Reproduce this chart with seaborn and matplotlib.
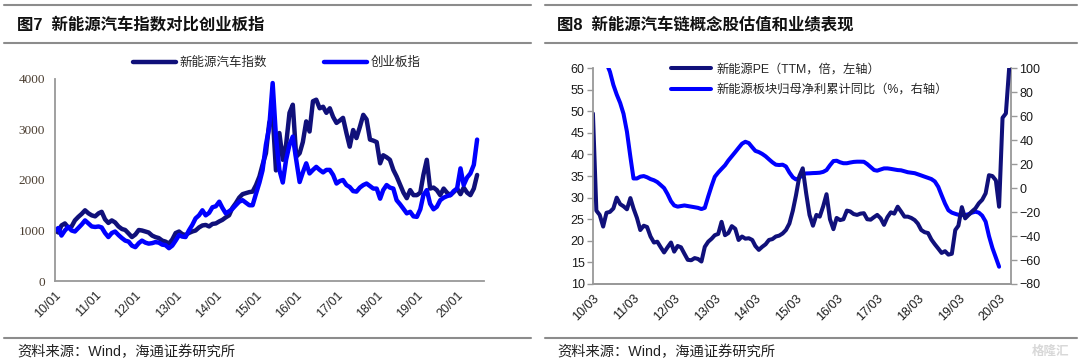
import matplotlib
matplotlib.use("Agg")
import pandas as pd
import matplotlib.pyplot as plt
import matplotlib.dates as mdates
import seaborn as sns

# ---- left chart: monthly index levels, 2010/01 - 2020/07 ----
nev_index = [
    1000, 960, 1100, 1140, 1060, 1080, 1200, 1270, 1330, 1400, 1340, 1300,   # 2010
    1280, 1340, 1370, 1220, 1150, 1200, 1160, 1080, 1030, 1010, 940, 870,    # 2011
    920, 1010, 1000, 980, 960, 900, 870, 850, 800, 780, 740, 820,            # 2012
    950, 980, 930, 910, 950, 980, 1000, 1060, 1100, 1110, 1080, 1130,        # 2013
    1140, 1180, 1210, 1260, 1300, 1450, 1540, 1650, 1720, 1740, 1760, 1770,  # 2014
    1900, 2070, 2300, 2530, 3130, 3300, 2190, 2930, 2400, 2700, 3330, 3490,  # 2015
    2460, 2530, 2750, 3160, 2960, 3560, 3590, 3420, 3450, 3330, 3420, 3250,  # 2016
    3130, 3180, 3230, 2930, 2660, 2990, 2830, 3050, 3290, 3200, 2800, 2780,  # 2017
    2750, 2330, 2490, 2450, 2400, 2200, 2070, 1910, 1750, 1640, 1800, 1700,  # 2018
    1700, 1750, 2100, 2400, 1830, 1850, 1800, 1700, 1830, 1750, 1700, 1760,  # 2019
    1830, 1720, 1850, 1750, 1700, 1830, 2100,                                # 2020
]
chinext = [
    1000, 1050, 900, 1000, 1070, 1000, 980, 1050, 1120, 1200, 1140, 1080,    # 2010
    1070, 1080, 1060, 950, 870, 950, 980, 910, 850, 800, 780, 700,           # 2011
    670, 750, 800, 760, 740, 750, 770, 760, 720, 710, 650, 700,              # 2012
    800, 910, 880, 870, 1000, 1110, 1240, 1300, 1400, 1300, 1350, 1460,      # 2013
    1480, 1570, 1450, 1340, 1380, 1430, 1500, 1570, 1600, 1550, 1500, 1500,  # 2014
    1730, 1950, 2190, 2700, 3050, 3920, 2860, 2200, 1950, 2400, 2700, 2860,  # 2015
    2400, 1960, 2150, 2330, 2130, 2200, 2260, 2200, 2150, 2200, 2200, 2100,  # 2016
    1930, 1980, 2000, 1900, 1860, 1780, 1770, 1850, 1900, 1930, 1880, 1830,  # 2017
    1830, 1630, 1800, 1900, 1850, 1830, 1600, 1520, 1430, 1340, 1370, 1280,  # 2018
    1270, 1420, 1700, 1800, 1530, 1420, 1470, 1600, 1650, 1680, 1700, 1780,  # 2019
    1830, 2230, 1900, 2050, 2130, 2300, 2800,                                # 2020
]
left_dates = pd.date_range("2010-01-01", periods=len(nev_index), freq="MS")

# ---- right chart: PE (TTM, left axis) 2010/03 - 2020/06 ----
pe_ttm = [
    49.5, 27, 26, 23.3, 26.5, 26.7, 27.5, 30, 28.5, 28,                      # 2010 Mar-Dec
    27.3, 29.9, 27.5, 25.3, 22.5, 23.5, 23.2, 21, 19.6, 19.8, 18.5, 17.3,    # 2011
    18.5, 19.6, 17.5, 18.8, 18.5, 17, 15.6, 15.5, 16, 15.8, 15.2, 18.6,      # 2012
    19.8, 20.5, 21.3, 21.6, 24.4, 21.3, 21.8, 23.4, 22.8, 20.2, 21, 20.5,    # 2013
    20.6, 20.2, 18.8, 17.9, 18.6, 19.2, 20.2, 20.4, 21, 21.2, 21.7, 22.5,    # 2014
    24, 27, 30.5, 35, 36.8, 31, 26, 23.5, 26, 25.6, 28, 30.8,                # 2015
    25, 22.7, 25.3, 24.8, 25, 27, 26.8, 26.2, 26, 26.3, 26.4, 25,            # 2016
    24.9, 25.5, 26, 25.2, 23.7, 25.5, 26.6, 26.3, 27.9, 26.8, 25.6, 25.6,    # 2017
    25.3, 24.8, 24, 22.5, 22, 21.8, 20.3, 19.2, 18.2, 17.2, 17.6, 16.8,      # 2018
    17, 22.5, 23.5, 27.8, 25.2, 26, 26.8, 27.5, 28.7, 29.5, 31, 35.2,        # 2019
    35, 34, 27.9, 48.5, 49.5, 60.5,                                          # 2020 Jan-Jun
]
pe_dates = pd.date_range("2010-03-01", periods=len(pe_ttm), freq="MS")

# ---- right chart: cumulative net profit yoy (%, right axis) 2010/07 - 2020/03 ----
profit_yoy = [
    104, 97, 86, 78, 71, 62,                                                 # 2010 Jul-Dec
    47, 26, 8, 8, 9.5, 10, 9, 7.5, 6.5, 5, 2.5, 0,                           # 2011
    -5, -11, -14.5, -15.5, -15, -14.5, -15, -15.5, -16, -16.5, -17.5, -16.5, # 2012
    -7, 2, 9.4, 13, 16, 19, 23, 26.5, 30, 33.5, 37, 38.6,                    # 2013
    37.5, 34, 31, 30, 28.5, 26.5, 24, 21.5, 19.5, 19.2, 19.5, 18,            # 2014
    13, 9, 7.2, 8.5, 11.5, 12.2, 12.3, 12.5, 12.6, 12.8, 13.5, 15,           # 2015
    19, 22.5, 22.8, 21.5, 20.7, 20.7, 21.3, 21.8, 22, 22, 21.9, 20,          # 2016
    17.5, 15, 14.5, 15.5, 16.4, 16.4, 16, 15.5, 15, 14.8, 14, 13.2,          # 2017
    12.8, 12.4, 11.5, 10.5, 9.5, 8.5, 7.5, 5.5, 1, -6, -13, -18.5,           # 2018
    -20.5, -21.5, -22.3, -22.5, -22.5, -21.8, -20.5, -19.7, -20.5, -23, -28, -40,  # 2019
    -50, -58, -65.6,                                                         # 2020 Jan-Mar
]
profit_dates = pd.date_range("2010-07-01", periods=len(profit_yoy), freq="MS")

left_ticks = pd.date_range("2010-01-01", "2020-01-01", freq="YS")
right_ticks = pd.date_range("2010-03-01", "2020-03-01", freq="12MS")

NAVY = "#10107a"
BLUE = "#0000ff"
GREY = "#999999"

sns.set_style("white")
plt.rcParams["font.family"] = ["Liberation Sans", "Noto Sans CJK SC"]

fig = plt.figure(figsize=(10.8, 3.64), dpi=100)

# header / footer rules and texts
for x0, x1 in [(0.004, 0.492), (0.505, 0.997)]:
    for yy in (0.986, 0.882, 0.072):
        fig.add_artist(plt.Line2D([x0, x1], [yy, yy], color="#8c8c8c", lw=1.5))
fig.text(0.016, 0.932, "图7  新能源汽车指数对比创业板指", fontsize=11.8, fontweight="bold",
         va="center", color="#111111")
fig.text(0.516, 0.932, "图8  新能源汽车链概念股估值和业绩表现", fontsize=11.8, fontweight="bold",
         va="center", color="#111111")
for xx in (0.016, 0.516):
    fig.text(xx, 0.032, "资料来源：Wind，海通证券研究所", fontsize=10.3, va="center", color="#222222")
fig.text(0.955, 0.032, "格隆汇", fontsize=9, va="center", color="#d8d8d8", fontweight="bold")

# ---- left panel ----
ax = fig.add_axes([0.0509, 0.228, 0.3972, 0.555])
sns.lineplot(x=left_dates, y=nev_index, ax=ax, color=NAVY, lw=3.2, label="新能源汽车指数")
sns.lineplot(x=left_dates, y=chinext, ax=ax, color=BLUE, lw=3.2, label="创业板指")
ax.set_xlim(pd.Timestamp("2010-01-01"), pd.Timestamp("2020-09-01"))
ax.set_ylim(0, 4000)
ax.set_yticks([0, 1000, 2000, 3000, 4000])
ax.set_xticks(left_ticks)
ax.xaxis.set_major_formatter(mdates.DateFormatter("%y/%m"))
for s in ("top", "right"):
    ax.spines[s].set_visible(False)
for s in ("left", "bottom"):
    ax.spines[s].set_color(GREY)
    ax.spines[s].set_linewidth(1.3)
ax.tick_params(axis="x", direction="out", length=4, width=1, color=GREY, labelsize=9, pad=2)
ax.tick_params(axis="y", direction="out", length=3, width=1, color=GREY, pad=4)
plt.setp(ax.get_xticklabels(), rotation=45, ha="right", rotation_mode="anchor")
for lab in ax.get_yticklabels():
    lab.set_family(["Liberation Serif"])
    lab.set_fontsize(9.5)
    lab.set_color("#4a3d30")
ax.set_xlabel("")
ax.set_ylabel("")
ax.legend(loc="center", bbox_to_anchor=(0.517, 1.08), ncol=2, frameon=False, fontsize=9,
          handlelength=3.4, columnspacing=4.6, handletextpad=0.3, borderaxespad=0)

# ---- right panel ----
axl = fig.add_axes([0.549, 0.2198, 0.387, 0.593])
axr = axl.twinx()
sns.lineplot(x=profit_dates, y=profit_yoy, ax=axr, color=BLUE, lw=2.9)
sns.lineplot(x=pe_dates, y=pe_ttm, ax=axl, color=NAVY, lw=2.9)
axl.set_zorder(axr.get_zorder() + 1)
axl.patch.set_visible(False)
axl.set_xlim(pd.Timestamp("2010-03-01"), pd.Timestamp("2020-06-15"))
axl.set_ylim(10, 60)
axr.set_ylim(-80, 100)
axl.set_yticks(range(10, 61, 5))
axr.set_yticks(range(-80, 101, 20))
axl.set_xticks(right_ticks)
axl.xaxis.set_major_formatter(mdates.DateFormatter("%y/%m"))
for a in (axl, axr):
    a.spines["top"].set_visible(False)
    for s in ("left", "right", "bottom"):
        a.spines[s].set_color(GREY)
        a.spines[s].set_linewidth(1.3)
    a.set_xlabel("")
    a.set_ylabel("")
axl.spines["right"].set_visible(False)
axr.spines["left"].set_visible(False)
axl.tick_params(axis="both", direction="out", length=4, width=1, color=GREY, labelsize=9,
                labelcolor="#1a1a1a", pad=2)
axr.tick_params(axis="y", direction="out", length=4, width=1, color=GREY, labelsize=9,
                labelcolor="#1a1a1a", pad=2)
plt.setp(axl.get_xticklabels(), rotation=45, ha="right", rotation_mode="anchor")

handles = [axl.get_lines()[0], axr.get_lines()[0]]
labels = ["新能源PE（TTM，倍，左轴）", "新能源板块归母净利累计同比（%，右轴）"]
axl.legend(handles, labels, loc="upper left", bbox_to_anchor=(0.175, 1.045), frameon=False,
           fontsize=8.8, handlelength=3.3, handletextpad=0.4, labelspacing=0.7, borderaxespad=0)

fig.savefig("out.png", dpi=100)
